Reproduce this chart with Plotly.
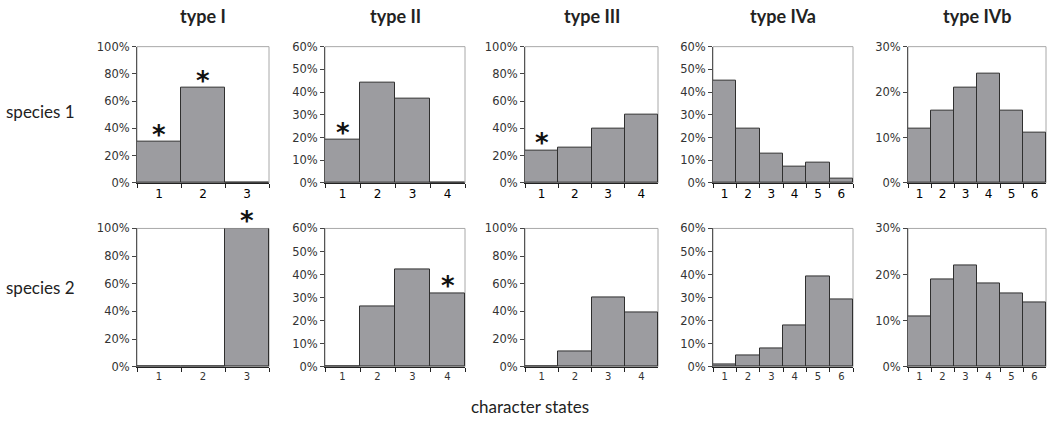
import plotly.graph_objects as go

types = ["type I", "type II", "type III", "type IVa", "type IVb"]
species = ["species 1", "species 2"]
states = [["1", "2", "3"], ["1", "2", "3", "4"], ["1", "2", "3", "4"],
          ["1", "2", "3", "4", "5", "6"], ["1", "2", "3", "4", "5", "6"]]
ymax = [100, 60, 100, 60, 30]
ydtick = [20, 10, 20, 10, 10]

sp1_typeI = [30, 70, 0]
sp1_typeII = [19, 44, 37, 0]
sp1_typeIII = [24, 26, 40, 50]
sp1_typeIVa = [45, 24, 13, 7, 9, 2]
sp1_typeIVb = [12, 16, 21, 24, 16, 11]

sp2_typeI = [0, 0, 100]
sp2_typeII = [0, 26, 42, 32]
sp2_typeIII = [0, 11, 50, 39]
sp2_typeIVa = [1, 5, 8, 18, 39, 29]
sp2_typeIVb = [11, 19, 22, 18, 16, 14]

values = [[sp1_typeI, sp1_typeII, sp1_typeIII, sp1_typeIVa, sp1_typeIVb],
          [sp2_typeI, sp2_typeII, sp2_typeIII, sp2_typeIVa, sp2_typeIVb]]

# significant states marked with an asterisk: (row, col, state)
stars = [(0, 0, "1"), (0, 0, "2"), (0, 1, "1"), (0, 2, "1"), (1, 0, "3"), (1, 1, "4")]

W, H = 1048, 424
col_px = [(137, 269), (325, 465), (525, 658), (713, 853), (908, 1046)]
row_px = [(41, 182), (229, 372)]

BAR = "#9C9CA0"
EDGE = "#2f2f2f"
TICKF = "DejaVu Sans"
TXTF = "Lato"

fig = go.Figure()
layout = {}
n = 0
for r in range(2):
    for c in range(5):
        n += 1
        xa = "x" if n == 1 else f"x{n}"
        ya = "y" if n == 1 else f"y{n}"
        fig.add_trace(go.Bar(
            x=states[c], y=values[r][c], xaxis=xa, yaxis=ya,
            marker=dict(color=BAR, line=dict(color=EDGE, width=1)),
            showlegend=False, cliponaxis=False))
        x0, x1 = col_px[c][0] / W, col_px[c][1] / W
        y1, y0 = 1 - row_px[r][0] / H, 1 - row_px[r][1] / H
        key = "" if n == 1 else str(n)
        layout[f"xaxis{key}"] = dict(
            domain=[x0, x1], anchor=ya, type="category",
            tickson="boundaries", ticks="outside", ticklen=4, tickcolor="#222",
            showline=True, linecolor="#222", linewidth=1.2, showgrid=False,
            tickfont=dict(family=TICKF, size=12 if r == 0 else 10,
                          color="#000" if r == 0 else "#333"),
            fixedrange=True)
        layout[f"yaxis{key}"] = dict(
            domain=[y0, y1], anchor=xa, range=[0, ymax[c]], dtick=ydtick[c],
            ticksuffix="%", ticks="outside", ticklen=4, tickcolor="#444",
            showline=True, linecolor="#555", linewidth=1, showgrid=False,
            zeroline=False,
            tickfont=dict(family=TICKF, size=11.5, color="#333"),
            fixedrange=True)

shapes = []
for r in range(2):
    for c in range(5):
        x0, x1 = col_px[c][0] / W, col_px[c][1] / W
        y1, y0 = 1 - row_px[r][0] / H, 1 - row_px[r][1] / H
        shapes.append(dict(type="rect", xref="paper", yref="paper",
                           x0=x0, x1=x1, y0=y0, y1=y1,
                           line=dict(color="#a8a8a8", width=1), layer="below"))

annotations = []
for c, t in enumerate(types):
    xc = (col_px[c][0] + col_px[c][1]) / 2 / W
    annotations.append(dict(text=f"<b>{t}</b>", x=xc, y=1 - 9 / H,
                            xref="paper", yref="paper", showarrow=False,
                            xanchor="center", yanchor="middle",
                            font=dict(family=TXTF, size=18, color="#222")))
for r, s in enumerate(species):
    yc = [108, 290][r]
    annotations.append(dict(text=s, x=40 / W, y=1 - yc / H,
                            xref="paper", yref="paper", showarrow=False,
                            xanchor="center", yanchor="middle",
                            font=dict(family=TXTF, size=17, color="#222")))
annotations.append(dict(text="character states", x=530 / W, y=1 - 413 / H,
                        xref="paper", yref="paper", showarrow=False,
                        xanchor="center", yanchor="middle",
                        font=dict(family=TXTF, size=17, color="#222")))

for (r, c, st) in stars:
    n = r * 5 + c + 1
    key = "" if n == 1 else str(n)
    idx = states[c].index(st)
    v = values[r][c][idx]
    annotations.append(dict(text="<b>*</b>", x=idx, y=v, xref=f"x{key}", yref=f"y{key}",
                            showarrow=False, xanchor="center", yanchor="bottom",
                            yshift=-10,
                            font=dict(family=TICKF, size=26, color="#111")))

fig.update_layout(**layout)
fig.update_layout(width=W, height=H, margin=dict(l=0, r=0, t=0, b=0),
                  paper_bgcolor="white", plot_bgcolor="white",
                  bargap=0, shapes=shapes, annotations=annotations)
fig.write_html("out.html", config={"displayModeBar": False},
               post_script="document.body.style.margin='0';document.body.style.overflow='hidden';")
